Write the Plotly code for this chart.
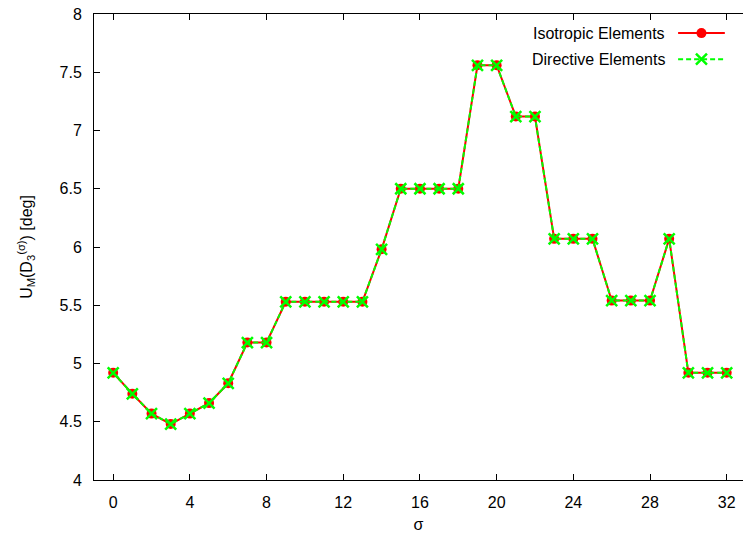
import plotly.graph_objects as go

# sigma index and the measured uncertainty per configuration
sigma = list(range(33))
isotropic = [4.92, 4.74, 4.57, 4.48, 4.57, 4.66, 4.83, 5.18, 5.18, 5.53,
             5.53, 5.53, 5.53, 5.53, 5.98, 6.50, 6.50, 6.50, 6.50, 7.56,
             7.56, 7.12, 7.12, 6.07, 6.07, 6.07, 5.54, 5.54, 5.54, 6.07,
             4.92, 4.92, 4.92]
directive = [4.92, 4.74, 4.57, 4.48, 4.57, 4.66, 4.83, 5.18, 5.18, 5.53,
             5.53, 5.53, 5.53, 5.53, 5.98, 6.50, 6.50, 6.50, 6.50, 7.56,
             7.56, 7.12, 7.12, 6.07, 6.07, 6.07, 5.54, 5.54, 5.54, 6.07,
             4.92, 4.92, 4.92]

series_names = ["Isotropic Elements", "Directive Elements"]
x_ticks = list(range(0, 33, 4))
y_ticks = [4, 4.5, 5, 5.5, 6, 6.5, 7, 7.5, 8]

RED = "#ff0000"
GREEN = "#00ff00"
FONT = "Liberation Sans, Arial, sans-serif"

red_line = dict(color=RED, width=2)
red_marker = dict(symbol="circle", size=10, color=RED)
green_line = dict(color=GREEN, width=2, dash="5px,3px")
green_marker = dict(symbol="x-thin", size=11, color=GREEN,
                    line=dict(color=GREEN, width=2.5))

fig = go.Figure()
fig.add_trace(go.Scatter(x=sigma, y=isotropic, mode="lines+markers",
                         name=series_names[0], line=red_line, marker=red_marker,
                         showlegend=False))
fig.add_trace(go.Scatter(x=sigma, y=directive, mode="lines+markers",
                         name=series_names[1], line=green_line, marker=green_marker,
                         showlegend=False))

# key samples, placed on a hidden overlay axis spanning the plot area
key_x = [0.900, 0.936, 0.972]
key_rows = [0.959, 0.903]
fig.add_trace(go.Scatter(x=key_x, y=[key_rows[0]] * 3, mode="lines", line=red_line,
                         xaxis="x2", yaxis="y2", showlegend=False, hoverinfo="skip"))
fig.add_trace(go.Scatter(x=[key_x[1]], y=[key_rows[0]], mode="markers", marker=red_marker,
                         xaxis="x2", yaxis="y2", showlegend=False, hoverinfo="skip"))
fig.add_trace(go.Scatter(x=key_x, y=[key_rows[1]] * 3, mode="lines", line=green_line,
                         xaxis="x2", yaxis="y2", showlegend=False, hoverinfo="skip"))
fig.add_trace(go.Scatter(x=[key_x[1]], y=[key_rows[1]], mode="markers", marker=green_marker,
                         xaxis="x2", yaxis="y2", showlegend=False, hoverinfo="skip"))

for name, row in zip(series_names, key_rows):
    fig.add_annotation(x=0.883, y=row, xref="paper", yref="paper", text=name,
                       showarrow=False, xanchor="right", yanchor="middle",
                       font=dict(family=FONT, size=16, color="black"))

# y-axis title, rotated, sitting in the left margin
fig.add_annotation(x=-0.105, y=0.5, xref="paper", yref="paper",
                   text="U<sub>M</sub>(D<sub>3</sub><sup>(σ)</sup>) [deg]",
                   textangle=-90, showarrow=False, xanchor="center", yanchor="middle",
                   font=dict(family=FONT, size=16, color="black"))

axis_common = dict(
    showgrid=False, zeroline=False, showline=True, linecolor="black", linewidth=1,
    ticks="inside", ticklen=6, tickwidth=1, tickcolor="black",
    tickfont=dict(family=FONT, size=16, color="black"),
)

fig.update_layout(
    width=743, height=537,
    margin=dict(l=94, r=0, t=14, b=57),
    paper_bgcolor="white", plot_bgcolor="white",
    font=dict(family=FONT, size=16, color="black"),
    xaxis=dict(range=[-1, 32.85], tickvals=x_ticks, mirror="ticks",
               ticklabelstandoff=8,
               title=dict(text="σ", standoff=8, font=dict(family=FONT, size=16)),
               **axis_common),
    yaxis=dict(range=[4, 8], tickvals=y_ticks, mirror=False,
               ticklabelstandoff=8, **axis_common),
    xaxis2=dict(range=[0, 1], overlaying="x", visible=False, fixedrange=True),
    yaxis2=dict(range=[0, 1], overlaying="y", visible=False, fixedrange=True),
    showlegend=False,
)

fig.write_html("out.html")
